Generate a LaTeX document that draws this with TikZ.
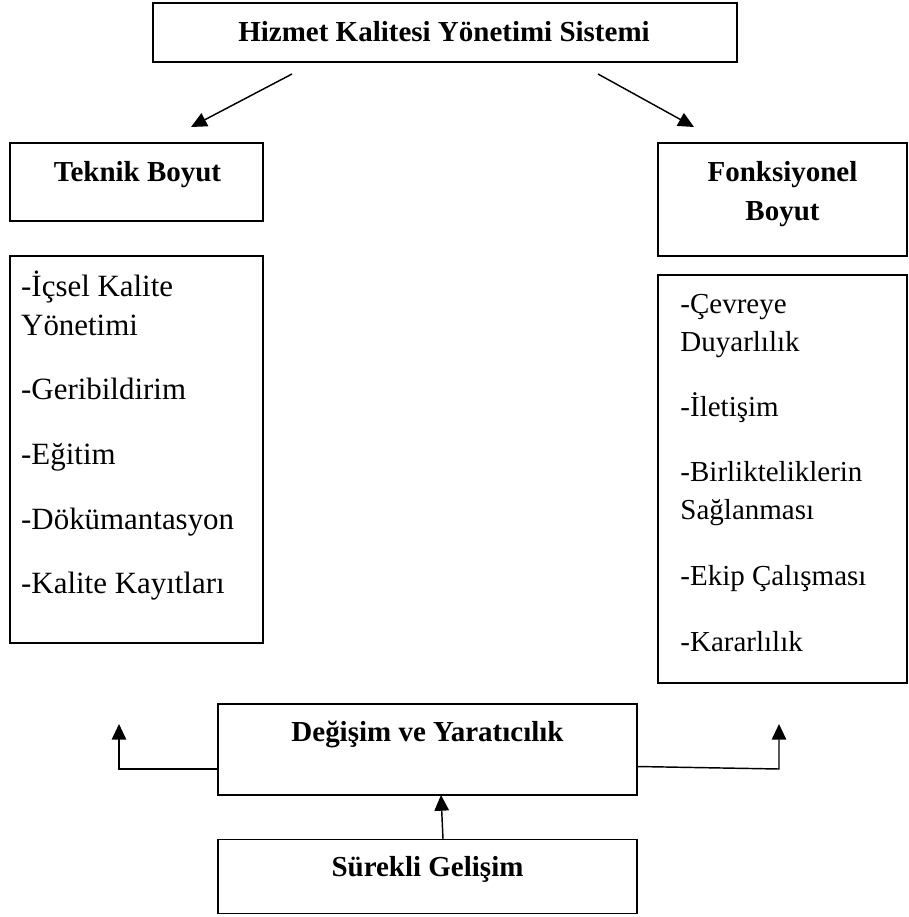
\documentclass[tikz,border=0pt]{standalone}
\usepackage{fontspec}
\setmainfont{Liberation Serif}
\usetikzlibrary{arrows.meta}
\def\u{0.414pt}
\begin{document}
\begin{tikzpicture}[x=0.414pt,y=-0.414pt,
  boxstyle/.style={draw, line width=0.75pt, inner sep=0pt, rectangle},
  txt/.style={inner sep=0pt, font=\fontsize{12}{14}\selectfont},
  ltxt/.style={inner sep=0pt, font=\fontsize{12.8}{15}\selectfont},
  btxt/.style={inner sep=0pt, font=\fontsize{12}{14}\selectfont\bfseries},
  arr/.style={line width=0.6pt, -{Triangle[length=6.5pt,width=6pt]}}]
\useasboundingbox (0,0) rectangle (908,917);
% boxes
\node[boxstyle, minimum width=584*\u, minimum height=59*\u] (top) at (445,32.5) {};
\node[boxstyle, minimum width=253*\u, minimum height=78*\u] (tek) at (136.5,182) {};
\node[boxstyle, minimum width=253*\u, minimum height=387*\u] (teklist) at (136.5,449.5) {};
\node[boxstyle, minimum width=249*\u, minimum height=113*\u] (fon) at (782.5,199.5) {};
\node[boxstyle, minimum width=249*\u, minimum height=408*\u] (fonlist) at (782.5,479) {};
\node[boxstyle, minimum width=419*\u, minimum height=91*\u] (deg) at (427.5,749.5) {};
\node[boxstyle, minimum width=419*\u, minimum height=74*\u] (sur) at (427.5,876.5) {};
% titles
\node[btxt, anchor=base] (toptxt) at (444,42) {Hizmet Kalitesi Yönetimi Sistemi};
\node[btxt, anchor=base] (tektxt) at (137.5,181.7) {Teknik Boyut};
\node[btxt, anchor=base] (fontxta) at (782.5,181.7) {Fonksiyonel};
\node[btxt, anchor=base] (fontxtb) at (782.5,220) {Boyut};
\node[btxt, anchor=base] (degtxt) at (427.5,741.7) {Değişim ve Yaratıcılık};
\node[btxt, anchor=base] (surtxt) at (427.5,876.7) {Sürekli Gelişim};
% left list
\node[ltxt, anchor=base west] (t1) at (20.7,296) {-İçsel Kalite};
\node[ltxt, anchor=base west] (t2) at (20.7,335) {Yönetimi};
\node[ltxt, anchor=base west] (t3) at (20.7,399) {-Geribildirim};
\node[ltxt, anchor=base west] (t4) at (20.7,464) {-Eğitim};
\node[ltxt, anchor=base west] (t5) at (20.7,529) {-Dökümantasyon};
\node[ltxt, anchor=base west] (t6) at (20.7,593) {-Kalite Kayıtları};
% right list
\node[txt, anchor=base west] (f1) at (680,313) {-Çevreye};
\node[txt, anchor=base west] (f2) at (680,351) {Duyarlılık};
\node[txt, anchor=base west] (f3) at (680,416) {-İletişim};
\node[txt, anchor=base west] (f4) at (680,481) {-Birlikteliklerin};
\node[txt, anchor=base west] (f5) at (680,519) {Sağlanması};
\node[txt, anchor=base west] (f6) at (680,585) {-Ekip Çalışması};
\node[txt, anchor=base west] (f7) at (680,651) {-Kararlılık};
% connector points
\coordinate (a1s) at (292,74);
\coordinate (a1e) at (191,127);
\coordinate (a2s) at (598,74);
\coordinate (a2e) at (694,127);
\coordinate (ls) at (218,769);
\coordinate (lc) at (119,769);
\coordinate (le) at (119,724);
\coordinate (rs) at (637,766.5);
\coordinate (rc) at (779,769);
\coordinate (re) at (779,724);
\coordinate (cs) at (443,839);
\coordinate (ce) at (441,795);
% connectors
\draw[arr] (a1s) -- (a1e);
\draw[arr] (a2s) -- (a2e);
\draw[arr] (ls) -- (lc) -- (le);
\draw[arr] (rs) -- (rc) -- (re);
\draw[arr] (cs) -- (ce);
\end{tikzpicture}
\end{document}
